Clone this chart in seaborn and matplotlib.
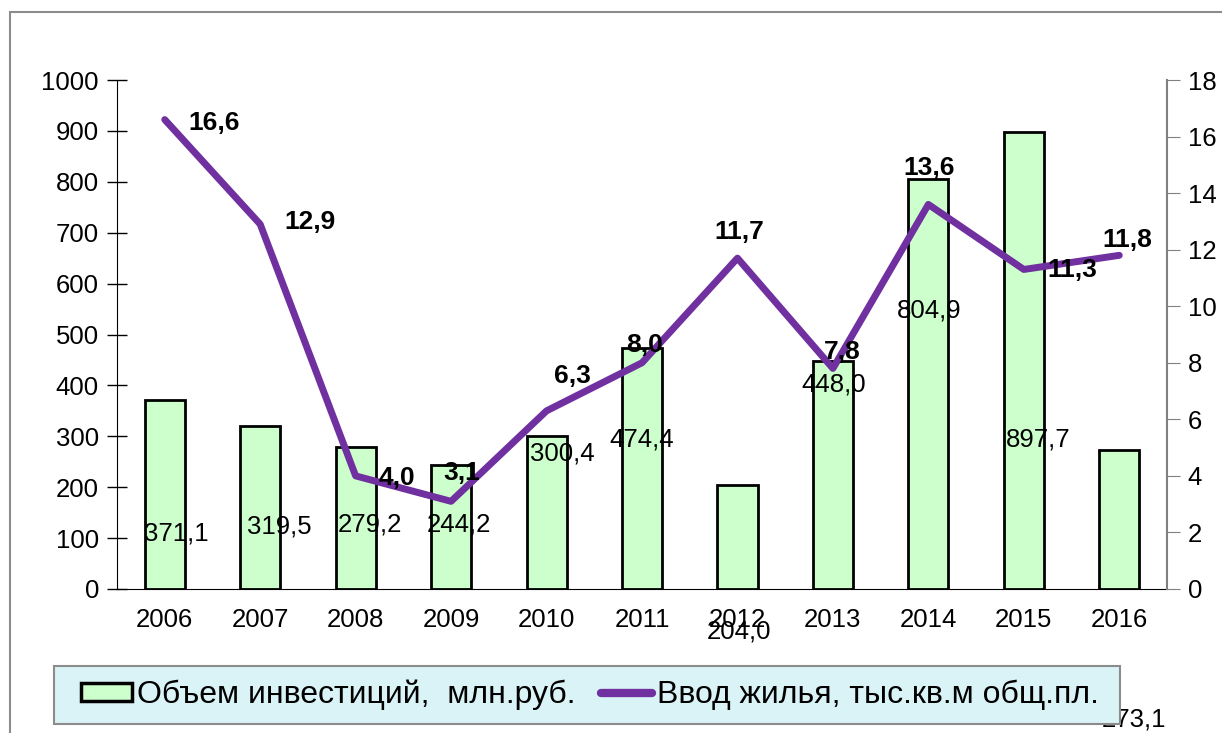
import matplotlib
matplotlib.use("Agg")
import matplotlib.pyplot as plt
import matplotlib.patches as mpatches
from matplotlib.lines import Line2D
import numpy as np
import seaborn as sns

years = ["2006", "2007", "2008", "2009", "2010", "2011", "2012", "2013", "2014", "2015", "2016"]
invest = [371.1, 319.5, 279.2, 244.2, 300.4, 474.4, 204.0, 448.0, 804.9, 897.7, 273.1]
housing = [16.6, 12.9, 4.0, 3.1, 6.3, 8.0, 11.7, 7.8, 13.6, 11.3, 11.8]

# where the labels sit (as in the original, they are scattered)
invest_lbl_x = [0.12, 0.2, 0.15, 0.08, 0.17, 0.0, 0.02, 0.01, 0.01, 0.15, 0.15]
invest_lbl_y = [110, 122, 126, 126, 267, 293, -84, 401, 548, 293, -257]
house_lbl_dx = [0.52, 0.52, 0.43, 0.11, 0.27, 0.03, 0.02, 0.10, 0.01, 0.51, 0.08]
house_lbl_y = [16.48, 12.98, 3.93, 4.10, 7.53, 8.63, 12.62, 8.38, 14.89, 11.28, 12.34]

bar_color = "#CCFFCC"
line_color = "#7030A0"

sns.set_style("white")
plt.rcParams["font.family"] = ["Liberation Sans", "DejaVu Sans"]
plt.rcParams["text.color"] = "black"
plt.rcParams["xtick.labelcolor"] = "black"
plt.rcParams["ytick.labelcolor"] = "black"

W, H = 1222, 733
fig = plt.figure(figsize=(W / 100, H / 100), dpi=100)
ax = fig.add_axes([117 / W, 1 - 589 / H, 1050 / W, 509 / H])

sns.barplot(x=years, y=invest, ax=ax, color=bar_color, edgecolor="black",
            linewidth=2, width=0.42, saturation=1)
ax.set_ylim(0, 1000)
ax.set_xlim(-0.5, len(years) - 0.5)
ax.set_yticks(np.arange(0, 1001, 100))
ax.tick_params(axis="y", labelsize=18.5, direction="inout", length=14, width=1,
               color="black", pad=6)
ax.tick_params(axis="x", which="major", length=0, labelsize=18.5, pad=14)
ax.set_xticks(np.arange(-0.5, len(years)), minor=True)
ax.tick_params(axis="x", which="minor", direction="out", length=9, color="#808080")
for s in ["top", "right"]:
    ax.spines[s].set_visible(False)
ax.spines["left"].set_color("black")
ax.spines["bottom"].set_color("black")

for i, v in enumerate(invest):
    ax.text(i + invest_lbl_x[i], invest_lbl_y[i], f"{v:.1f}".replace(".", ","),
            ha="center", va="center", fontsize=18.5, clip_on=False)

ax2 = ax.twinx()
sns.lineplot(x=np.arange(len(years)), y=housing, ax=ax2, color=line_color, linewidth=5)
ax2.set_ylim(0, 18)
ax2.set_xlim(-0.5, len(years) - 0.5)
ax2.set_yticks(np.arange(0, 19, 2))
ax2.tick_params(axis="y", labelsize=18.5, direction="out", length=9, color="#808080", pad=6)
for s in ["top", "left", "bottom"]:
    ax2.spines[s].set_visible(False)
ax2.spines["right"].set_color("#808080")
ax2.spines["right"].set_linewidth(1.5)

for i, v in enumerate(housing):
    ax2.text(i + house_lbl_dx[i], house_lbl_y[i], f"{v:.1f}".replace(".", ","),
             ha="center", va="center", fontsize=19, fontweight="bold")

# outer frame of the chart area
fig.patches.append(mpatches.Rectangle((10 / W, -0.1), 1.2, (H - 12) / H + 0.1,
                                      transform=fig.transFigure, fill=False,
                                      edgecolor="#8C8C8C", linewidth=1.5))
# legend box
fig.patches.append(mpatches.Rectangle((54 / W, 1 - 724 / H), (1120 - 54) / W, 58 / H,
                                      transform=fig.transFigure, facecolor="#DAF3F7",
                                      edgecolor="#8C8C8C", linewidth=1.5))

handles = [mpatches.Patch(facecolor=bar_color, edgecolor="black", linewidth=2.5),
           Line2D([0], [0], color=line_color, linewidth=6, solid_capstyle="round")]
leg = fig.legend(handles, ["Объем инвестиций,  млн.руб.", "Ввод жилья, тыс.кв.м общ.пл."],
                 loc="center", bbox_to_anchor=(590 / W, 1 - 695 / H), ncol=2,
                 fontsize=23, frameon=False, handlelength=1.6, handleheight=0.5,
                 handletextpad=0.15, columnspacing=0.8, borderpad=0, borderaxespad=0)

fig.savefig("out.png", dpi=100)
